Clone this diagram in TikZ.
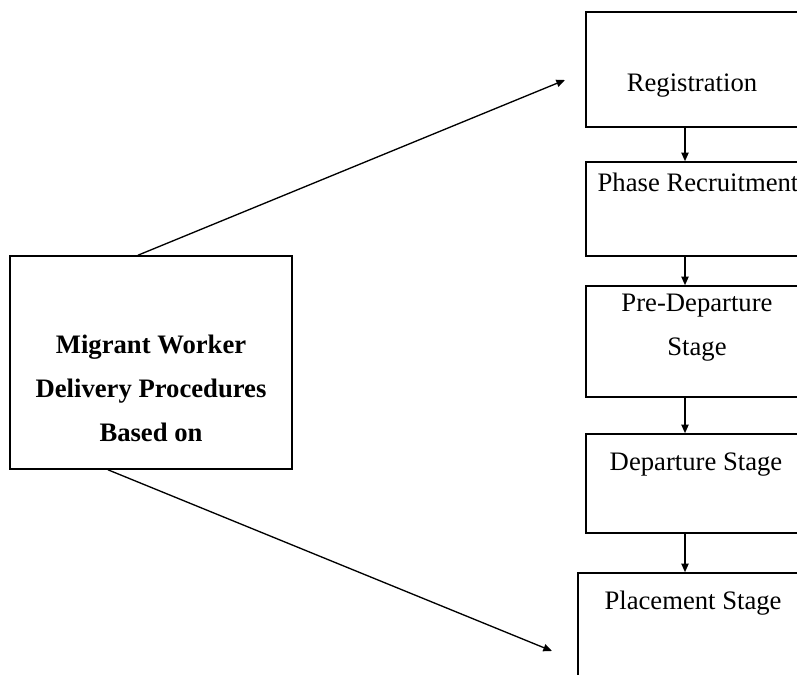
\documentclass[tikz,border=0pt]{standalone}
\usepackage{fontspec}
\setmainfont{Liberation Serif}
\usetikzlibrary{arrows.meta}
\begin{document}
\begin{tikzpicture}[x=0.75pt,y=-0.75pt,
  box/.style={draw=black,line width=1.2pt,minimum width=168pt,inner sep=0pt},
  lbl/.style={inner sep=0pt,align=center,font=\fontsize{20}{33}\selectfont},
  arr/.style={line width=1pt,-{Triangle[length=6.5pt,width=5.5pt]}}]
\useasboundingbox (0,0) rectangle (797,675);
\clip (0,0) rectangle (797,675);
\node[box,minimum height=86.25pt] (reg) at (698,69.5) {};
\node[box,minimum height=70.5pt] (pr) at (698,209) {};
\node[box,minimum height=83.25pt] (pd) at (698,341.5) {};
\node[box,minimum height=74.25pt] (dep) at (698,483.5) {};
\node[box,minimum width=180pt,minimum height=95.25pt] (pl) at (698,636.5) {};
\node[box,minimum width=211.5pt,minimum height=159.75pt] (mw) at (151,362.5) {};
\node[lbl] (treg) at (692,86) {Registration};
\node[lbl] (tpr) at (698,182) {Phase Recruitment};
\node[lbl] (tpd) at (697,328) {Pre-Departure\\Stage};
\node[lbl] (tdep) at (696,465) {Departure Stage};
\node[lbl] (tpl) at (693,603) {Placement Stage};
\node[lbl,font=\fontsize{20}{33}\selectfont\bfseries] (tmw) at (151,388) {Migrant Worker\\Delivery Procedures\\Based on};
\coordinate (ax) at (685,0);
\coordinate (up) at (565,80);
\coordinate (dn) at (552,651);
\coordinate (us) at (138,0);
\coordinate (ds) at (108,0);
\draw[arr] (reg.south -| ax) -- (pr.north -| ax);
\draw[arr] (pr.south -| ax) -- (pd.north -| ax);
\draw[arr] (pd.south -| ax) -- (dep.north -| ax);
\draw[arr] (dep.south -| ax) -- (pl.north -| ax);
\draw[arr] (mw.north -| us) -- (up);
\draw[arr] (mw.south -| ds) -- (dn);
\end{tikzpicture}
\end{document}
